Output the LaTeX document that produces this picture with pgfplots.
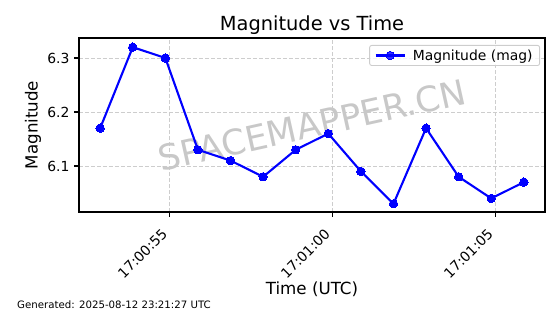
\documentclass[border=0pt]{standalone}
\usepackage{fontspec}
\setmainfont{DejaVu Sans}
\usepackage{pgfplots}
\pgfplotsset{compat=1.18}
\definecolor{mblue}{RGB}{0,0,255}
\definecolor{gridgray}{RGB}{205,205,205}
\definecolor{wmgray}{RGB}{200,200,200}
\begin{document}
\begin{tikzpicture}
\begin{axis}[
  scale only axis,
  width=466bp, height=174bp,
  xmin=52.21, xmax=66.51,
  ymin=6.0148, ymax=6.337,
  axis line style={line width=1.1bp},
  every tick/.style={line width=1.1bp, black},
  tick align=outside,
  major tick length=4.9bp,
  xtick={55,60,65},
  xticklabels={17:00:55,17:01:00,17:01:05},
  ytick={6.1,6.2,6.3},
  yticklabels={6.1,6.2,6.3},
  xtick pos=bottom, ytick pos=left,
  /pgf/number format/assume math mode=true,
  ticklabel style={font=\fontsize{13.9bp}{16bp}\selectfont},
  xticklabel style={rotate=45, anchor=north east, inner sep=0pt, xshift=-14bp, yshift=-1bp},
  yticklabel style={inner sep=0pt, xshift=-4.5bp},
  grid=major,
  major grid style={gridgray, line width=0.9bp, dash pattern=on 4bp off 2bp},
  title={Magnitude vs Time},
  every axis title/.style={font=\fontsize{19.4bp}{22bp}\selectfont, at={(0.5,1)}, anchor=base, inner sep=0pt, yshift=7bp},
  xlabel={Time (UTC)},
  ylabel={Magnitude},
  every axis x label/.style={font=\fontsize{16.7bp}{19bp}\selectfont, at={(0.5,0)}, anchor=center, yshift=-77bp},
  every axis y label/.style={font=\fontsize{16.7bp}{19bp}\selectfont, at={(0,0.5)}, anchor=center, rotate=90, yshift=46bp},
  legend style={font=\fontsize{13.9bp}{16bp}\selectfont, draw=gridgray, rounded corners=2bp, fill=white, fill opacity=0.8, text opacity=1, at={(0.9893,0.9598)}, anchor=north east, inner xsep=5bp, inner ysep=2bp, line width=0.9bp, nodes={inner sep=2bp}, /tikz/every odd column/.append style={column sep=5bp}},
  legend image code/.code={\draw[#1, mark repeat=2, mark phase=2] plot coordinates {(0bp,0bp) (14.5bp,0bp) (29bp,0bp)};},
  legend cell align=left,
  clip=false,
]
\node[rotate=12.5, text=wmgray, font=\fontsize{35bp}{40bp}\selectfont] at (rel axis cs:0.5,0.5) {SPACEMAPPER.CN};
\addplot[mblue, line width=2.1bp, mark=*, mark size=4.2bp, mark options={solid, fill=mblue, draw=mblue, line width=0pt}] coordinates {
(52.86,6.17)
(53.86,6.32)
(54.86,6.30)
(55.86,6.13)
(56.86,6.11)
(57.86,6.08)
(58.86,6.13)
(59.86,6.16)
(60.86,6.09)
(61.86,6.03)
(62.86,6.17)
(63.86,6.08)
(64.86,6.04)
(65.86,6.07)
};
\addlegendentry{Magnitude (mag)}
\end{axis}
\node[anchor=west, inner sep=0pt, font=\fontsize{10.2bp}{12bp}\selectfont] at ([xshift=-62bp,yshift=-93bp]current axis.south west) {Generated: 2025-08-12 23:21:27 UTC};
\path ([xshift=-79bp,yshift=-102bp]current axis.south west) rectangle ([xshift=15bp,yshift=38bp]current axis.north east);
\end{tikzpicture}
\end{document}
